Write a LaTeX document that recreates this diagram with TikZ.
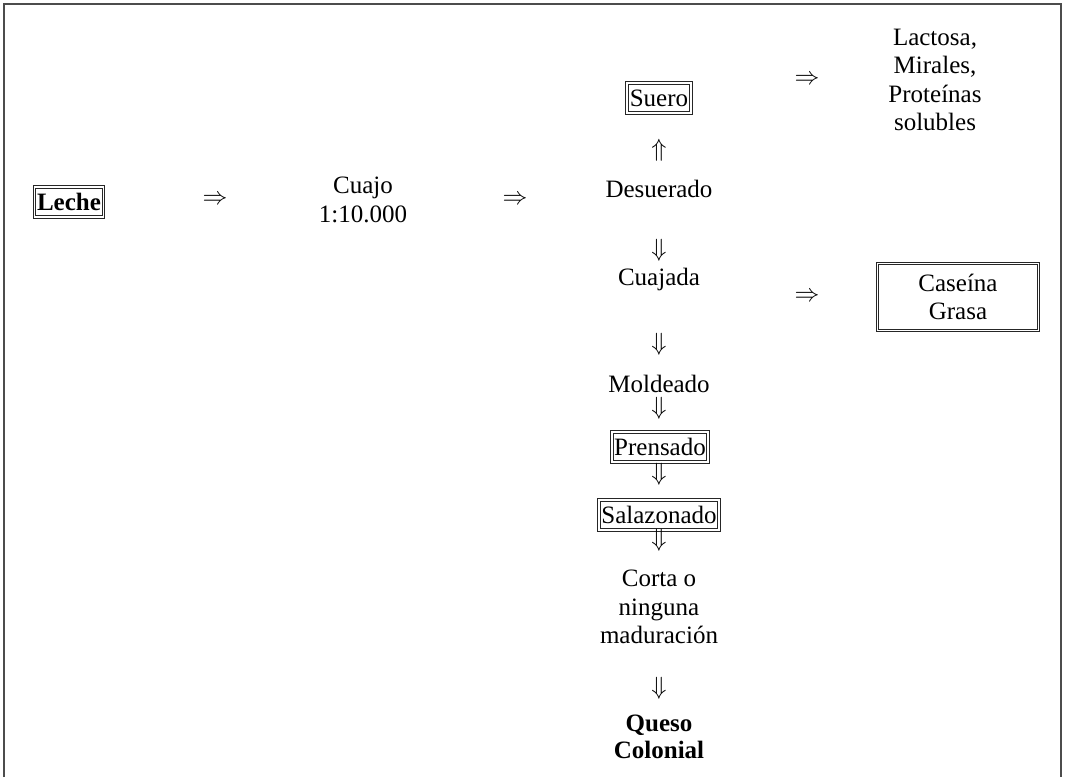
\documentclass[tikz,border=0pt]{standalone}
\usepackage{fontspec}
\setmainfont{Liberation Serif}
\begin{document}
\begin{tikzpicture}[x=1pt,y=-1pt,
  txt/.style={font=\fontsize{25}{28.5}\selectfont, inner sep=0pt, align=center},
  bold/.style={font=\fontsize{25}{27}\selectfont\bfseries, inner sep=0pt, align=center},
  glyph/.style={font=\fontsize{25}{28}\selectfont, inner sep=0pt},
  dbox/.style={draw=black!85, double, double distance=1.8pt, line width=1pt,
    inner xsep=2.5pt, inner ysep=3pt, minimum height=30pt},
  frame/.style={draw=black!70, line width=1.3pt}]
\useasboundingbox (0,0) rectangle (1065,777);
\draw[frame] (4,777) -- (4,4) -- (1061,4) -- (1061,777);

% left row
\node[bold, dbox] (leche) at (69,202) {Leche};
\node[glyph] (a1) at (215,200) {$\Rightarrow$};
\node[txt] (cuajo) at (363,200) {Cuajo\\1:10.000};
\node[glyph] (a2) at (515,200) {$\Rightarrow$};

% central column
\node[txt, dbox] (suero) at (659,98) {Suero};
\node[glyph] (a3) at (659,150) {$\Uparrow$};
\node[txt] (desuerado) at (659,189) {Desuerado};
\node[glyph] (a4) at (659,250) {$\Downarrow$};
\node[txt] (cuajada) at (659,279) {Cuajada};
\node[glyph] (a5) at (659,344) {$\Downarrow$};
\node[txt] (moldeado) at (659,384) {Moldeado};
\node[glyph] (a6) at (659,408) {$\Downarrow$};
\node[txt, dbox] (prensado) at (660,447) {Prensado};
\node[glyph] (a7) at (659,474) {$\Downarrow$};
\node[txt, dbox] (salazonado) at (659,515) {Salazonado};
\node[glyph] (a8) at (659,540) {$\Downarrow$};
\node[txt] (corta) at (659,607) {Corta o\\ninguna\\maduración};
\node[glyph] (a9) at (659,688) {$\Downarrow$};
\node[bold] (queso) at (659,737) {Queso\\Colonial};

% right column
\node[glyph] (a10) at (807,80) {$\Rightarrow$};
\node[txt] (lactosa) at (935,80) {Lactosa,\\Mirales,\\Proteínas\\solubles};
\node[glyph] (a11) at (807,297) {$\Rightarrow$};
\node[txt, dbox, minimum width=161pt, minimum height=67pt] (caseina) at (958,297) {Caseína\\Grasa};
\end{tikzpicture}
\end{document}
